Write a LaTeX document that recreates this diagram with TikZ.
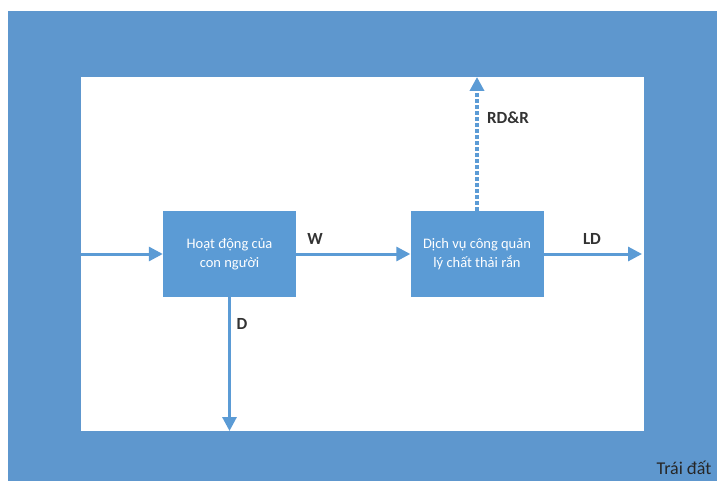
\documentclass[tikz,border=0pt]{standalone}
\usepackage{fontspec}
\setmainfont{Carlito}
\usetikzlibrary{arrows.meta}
\definecolor{frameblue}{HTML}{5E97CE}
\definecolor{boxblue}{HTML}{5B9BD5}
\definecolor{labelgray}{HTML}{333333}
\begin{document}
\begin{tikzpicture}[x=1pt,y=-1pt,
  process/.style={fill=boxblue,draw=none,minimum width=133pt,minimum height=86pt,
    text=white,align=center,inner sep=0pt,
    font=\fontsize{14.5}{18.5}\selectfont},
  flow/.style={draw=boxblue,line width=3pt,
    -{Triangle[width=14pt,length=14pt]}},
  dotflow/.style={flow,line width=3.6pt,dash pattern=on 3.6pt off 2.4pt},
  flowlabel/.style={text=labelgray,inner sep=0pt,
    font=\fontsize{17}{20}\selectfont\bfseries}
]
\useasboundingbox (0,0) rectangle (717,481);
\fill[white] (0,0) rectangle (717,481);
% Earth: outer frame and inner system boundary
\fill[frameblue] (8,11) rectangle (717,481);
\fill[white] (81,77) rectangle (644,431);

% process blocks
\node[process] (human) at (229.5,254) {Hoạt động của\\con người};
\node[process] (msw) at (477,254) {Dịch vụ công quản\\lý chất thải rắn};

% free ends of the flows
\coordinate (in) at (81,254);
\coordinate (out) at (642,254);
\coordinate (down) at (229.5,431);
\coordinate (up) at (477,77);

\draw[flow] (in) -- (human.west);
\draw[flow] (human.east) -- (msw.west);
\draw[flow] (msw.east) -- (out);
\draw[flow] (human.south) -- (down);
\draw[dotflow] (msw.north) -- (up);

% flow labels
\node[flowlabel] (lw) at (315,239) {W};
\node[flowlabel] (lld) at (592,239) {LD};
\node[flowlabel] (ld) at (242,324) {D};
\node[flowlabel] (lrd) at (508,118) {RD\&R};
\node[text=black!85,inner sep=0pt,font=\fontsize{18}{21}\selectfont] (earth) at (684,468) {Trái đất};
\end{tikzpicture}
\end{document}
